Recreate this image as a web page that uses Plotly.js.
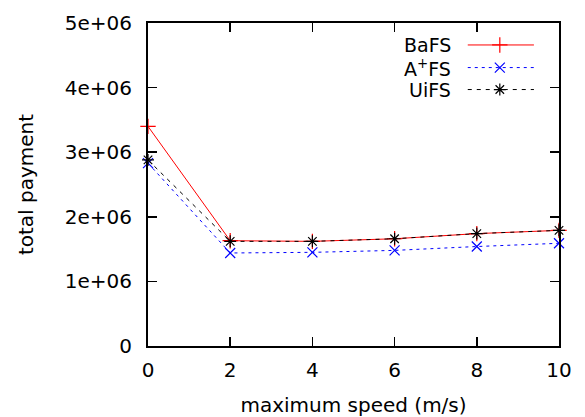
<!DOCTYPE html>
<html>
<head>
<meta charset="utf-8">
<script src="https://cdn.plot.ly/plotly-3.0.1.min.js"></script>
<style>html,body{margin:0;padding:0;background:#fff;}#chart{width:585px;height:417px;}</style>
</head>
<body>
<div id="chart"></div>
<script>
const speeds = [0, 2, 4, 6, 8, 10];
const bafs = [3.40e6, 1.63e6, 1.62e6, 1.66e6, 1.74e6, 1.79e6];
const apfs = [2.83e6, 1.44e6, 1.45e6, 1.48e6, 1.54e6, 1.59e6];
const uifs = [2.88e6, 1.62e6, 1.62e6, 1.66e6, 1.74e6, 1.79e6];
const yTickVals = [0, 1e6, 2e6, 3e6, 4e6, 5e6];
const yTickText = ['0', '1e+06', '2e+06', '3e+06', '4e+06', '5e+06'];
const xTickVals = [0, 2, 4, 6, 8, 10];
const seriesNames = ['BaFS', 'A<sup>+</sup>FS', 'UiFS'];

const FONT = 'DejaVu Sans, Liberation Sans, Arial, sans-serif';
const styles = [
  {color: '#ff0000', dash: 'solid', symbol: 'cross-thin-open', size: 11},
  {color: '#0000ff', dash: '3px,4px', symbol: 'x-thin-open', size: 10},
  {color: '#000000', dash: '4px,5px', symbol: 'asterisk-open', size: 10}
];
const allY = [bafs, apfs, uifs];

const traces = allY.map((ys, i) => ({
  x: speeds, y: ys, type: 'scatter', mode: 'lines+markers',
  name: seriesNames[i], showlegend: false, cliponaxis: false,
  line: {color: styles[i].color, width: 1, dash: styles[i].dash},
  marker: {symbol: styles[i].symbol, size: styles[i].size, color: styles[i].color,
           line: {color: styles[i].color, width: 1.2}}
}));

// manual legend (sample line to the right of text, gnuplot style)
const legRows = [0.932, 0.862, 0.794];
const legX = [0.778, 0.939];
const legMid = 0.856;
const annotations = [];
legRows.forEach((ry, i) => {
  traces.push({
    x: legX, y: [ry, ry], xaxis: 'x2', yaxis: 'y2', type: 'scatter', mode: 'lines',
    showlegend: false, hoverinfo: 'skip', cliponaxis: false,
    line: {color: styles[i].color, width: 1, dash: styles[i].dash}
  });
  traces.push({
    x: [legMid], y: [ry], xaxis: 'x2', yaxis: 'y2', type: 'scatter', mode: 'markers',
    showlegend: false, hoverinfo: 'skip', cliponaxis: false,
    marker: {symbol: styles[i].symbol, size: styles[i].size, color: styles[i].color,
             line: {color: styles[i].color, width: 1.2}}
  });
  annotations.push({
    xref: 'x2', yref: 'y2', x: 0.742, y: ry, text: seriesNames[i], showarrow: false,
    xanchor: 'right', yanchor: 'middle',
    font: {family: FONT, size: 19, color: '#000'}
  });
});

const layout = {
  width: 585, height: 417,
  margin: {l: 148, r: 26, t: 23, b: 71},
  paper_bgcolor: '#fff', plot_bgcolor: '#fff',
  showlegend: false,
  font: {family: FONT, size: 20, color: '#000'},
  xaxis: {
    range: [0, 10], tickvals: xTickVals, ticks: 'inside', ticklen: 9, tickwidth: 1.5,
    tickcolor: '#000', showline: true, linecolor: '#000', linewidth: 2, mirror: 'ticks',
    showgrid: false, zeroline: false, tickfont: {family: FONT, size: 20},
    ticklabelstandoff: 5,
    title: {text: 'maximum speed (m/s)', font: {family: FONT, size: 20}, standoff: 23}
  },
  yaxis: {
    range: [0, 5e6], tickvals: yTickVals, ticktext: yTickText, ticks: 'inside', ticklen: 9,
    tickwidth: 1.5, tickcolor: '#000', showline: true, linecolor: '#000', linewidth: 2,
    mirror: 'ticks', showgrid: false, zeroline: false, tickfont: {family: FONT, size: 20},
    ticklabelstandoff: 10,
    title: {text: 'total payment', font: {family: FONT, size: 20}, standoff: 26}
  },
  xaxis2: {range: [0, 1], overlaying: 'x', visible: false, fixedrange: true},
  yaxis2: {range: [0, 1], overlaying: 'y', visible: false, fixedrange: true},
  annotations: annotations
};

Plotly.newPlot('chart', traces, layout, {displayModeBar: false, staticPlot: true});
</script>
</body>
</html>
